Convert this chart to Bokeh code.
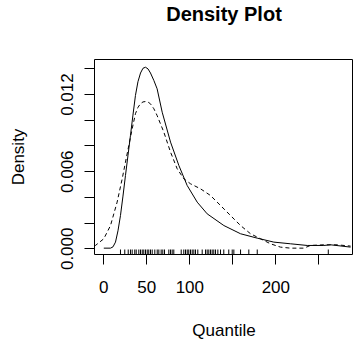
from bokeh.plotting import figure
from bokeh.models import FixedTicker, PrintfTickFormatter, Range1d, Title
from bokeh.embed import file_html
from bokeh.resources import INLINE

# solid density curve
solid_x = [0.0, 7.8, 10.7, 13.6, 16.5, 19.4, 22.3, 25.2, 28.1, 31.0, 33.9, 36.8,
           39.7, 42.7, 45.6, 48.5, 51.4, 54.3, 58.2, 62.0, 67.9,
           77.6, 87.3, 96.9, 108.6, 120.2, 139.6, 159.0, 178.3, 197.7, 217.0,
           236.5, 255.8, 263.6, 286.9]
solid_y = [0.00005, 0.00005, 0.00015, 0.00052, 0.00140, 0.00259, 0.00410, 0.00570,
           0.00725, 0.00882, 0.01040, 0.01193, 0.01300, 0.01368, 0.01405, 0.01413,
           0.01400, 0.01368, 0.01310, 0.01245, 0.01063, 0.00830, 0.00648, 0.00493,
           0.00363, 0.00272, 0.00181, 0.00117, 0.00083, 0.00052, 0.00039, 0.00026,
           0.00026, 0.00031, 0.00013]

# dashed density curve
dashed_x = [-10.8, -9.7, 0.0, 7.8, 15.5, 21.4, 25.2, 29.1, 33.0, 36.8, 39.7, 42.7,
            45.6, 48.5, 51.4, 54.3, 58.2, 62.0, 69.8, 77.6, 85.3, 93.0, 100.8,
            112.4, 124.0, 135.7, 147.3, 159.0, 170.6, 182.2, 193.8, 205.4, 217.0,
            232.6, 240.3, 255.8, 271.3, 286.9]
dashed_y = [0.00022, 0.00026, 0.00078, 0.00181, 0.00363, 0.00545, 0.00674, 0.00804,
            0.00934, 0.01051, 0.01100, 0.01130, 0.01143, 0.01146, 0.01142, 0.01128,
            0.01090, 0.01037, 0.00908, 0.00752, 0.00623, 0.00545, 0.00506, 0.00467,
            0.00415, 0.00337, 0.00259, 0.00181, 0.00117, 0.00078, 0.00039, 0.00013,
            0.00005, 0.00005, 0.00026, 0.00031, 0.00031, 0.00021]

# rug (observations)
rug_x = [19.4, 24.4, 28.4, 31.0, 33.0, 36.0, 37.7, 40.7, 42.7, 44.7, 46.5, 48.5,
         50.5, 52.3, 54.3, 56.3, 59.3, 62.1, 64.0, 66.7, 68.6, 70.6, 75.6, 77.6,
         79.5, 81.4, 90.0, 93.0, 95.0, 97.0, 98.8, 100.8, 102.8, 104.7, 106.6,
         109.3, 114.4, 118.3, 120.2, 122.1, 124.1, 126.0, 127.9, 129.9, 132.6,
         135.7, 139.5, 145.3, 149.3, 151.2, 159.0, 168.6, 178.4, 261.0]

x_labeled = [0, 50, 100, 200]
x_unlabeled = [150, 250]
y_labeled = [0.0, 0.006, 0.012]
y_unlabeled = [0.002, 0.004, 0.008, 0.010, 0.014]

title_text = "Density Plot"
FONT = "Liberation Sans"

x_lo, x_hi = -10.8, 290.3
y_lo, y_hi = -0.000444, 0.014731

p = figure(width=353, height=342, output_backend="svg", toolbar_location=None,
           x_range=Range1d(x_lo, x_hi), y_range=Range1d(y_lo, y_hi),
           min_border_left=94, min_border_right=0, min_border_top=59,
           min_border_bottom=88, title=None)

p.background_fill_color = "white"
p.border_fill_color = "white"
p.outline_line_color = "black"
p.outline_line_width = 1
p.grid.visible = False

# spacer between frame and title, then the title itself
spacer = Title(text=" ", text_font_size="1px", standoff=30)
p.add_layout(spacer, "above")
main_title = Title(text=title_text, text_font=FONT, text_font_size="20px",
                   text_font_style="bold", align="center", text_color="black",
                   standoff=0, vertical_align="top")
p.add_layout(main_title, "above")

p.line(solid_x, solid_y, line_color="black", line_width=1)
p.line(dashed_x, dashed_y, line_color="black", line_width=1, line_dash="4 3")

rug_len = (y_hi - y_lo) * 5 / 195
p.segment(x0=rug_x, x1=rug_x, y0=[y_lo] * len(rug_x), y1=[y_lo + rug_len] * len(rug_x),
          line_color="black", line_width=1)

xa = p.xaxis[0]
xa.ticker = FixedTicker(ticks=x_labeled, minor_ticks=x_unlabeled)
xa.axis_label = "Quantile"
ya = p.yaxis[0]
ya.ticker = FixedTicker(ticks=y_labeled, minor_ticks=y_unlabeled)
ya.formatter = PrintfTickFormatter(format="%.3f")
ya.axis_label = "Density"
ya.major_label_orientation = "vertical"

for ax in (xa, ya):
    ax.axis_line_color = None
    ax.major_tick_in = 0
    ax.major_tick_out = 10
    ax.minor_tick_in = 0
    ax.minor_tick_out = 10
    ax.major_tick_line_color = "black"
    ax.minor_tick_line_color = "black"
    ax.major_label_text_font = FONT
    ax.major_label_text_font_size = "17px"
    ax.major_label_text_color = "black"
    ax.axis_label_text_font = FONT
    ax.axis_label_text_font_size = "17px"
    ax.axis_label_text_font_style = "normal"
    ax.axis_label_text_color = "black"

xa.major_label_standoff = 16
xa.axis_label_standoff = 25
ya.major_label_standoff = 11
ya.axis_label_standoff = 31

open("out.html", "w").write(file_html(p, INLINE))
